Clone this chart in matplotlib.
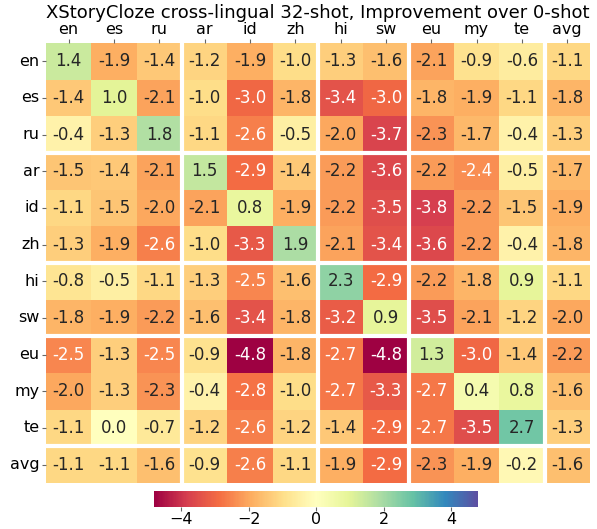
import numpy as np
import seaborn as sns
from matplotlib import pyplot as plt

langs = ["en", "es", "ru", "ar", "id", "zh", "hi", "sw", "eu", "my", "te", "avg"]

# rows: demo language, cols: eval language
en = [1.4, -1.9, -1.4, -1.2, -1.9, -1.0, -1.3, -1.6, -2.1, -0.9, -0.6, -1.1]
es = [-1.4, 1.0, -2.1, -1.0, -3.0, -1.8, -3.4, -3.0, -1.8, -1.9, -1.1, -1.8]
ru = [-0.4, -1.3, 1.8, -1.1, -2.6, -0.5, -2.0, -3.7, -2.3, -1.7, -0.4, -1.3]
ar = [-1.5, -1.4, -2.1, 1.5, -2.9, -1.4, -2.2, -3.6, -2.2, -2.4, -0.5, -1.7]
id_ = [-1.1, -1.5, -2.0, -2.1, 0.8, -1.9, -2.2, -3.5, -3.8, -2.2, -1.5, -1.9]
zh = [-1.3, -1.9, -2.6, -1.0, -3.3, 1.9, -2.1, -3.4, -3.6, -2.2, -0.4, -1.8]
hi = [-0.8, -0.5, -1.1, -1.3, -2.5, -1.6, 2.3, -2.9, -2.2, -1.8, 0.9, -1.1]
sw = [-1.8, -1.9, -2.2, -1.6, -3.4, -1.8, -3.2, 0.9, -3.5, -2.1, -1.2, -2.0]
eu = [-2.5, -1.3, -2.5, -0.9, -4.8, -1.8, -2.7, -4.8, 1.3, -3.0, -1.4, -2.2]
my = [-2.0, -1.3, -2.3, -0.4, -2.8, -1.0, -2.7, -3.3, -2.7, 0.4, 0.8, -1.6]
te = [-1.1, 0.0, -0.7, -1.2, -2.6, -1.2, -1.4, -2.9, -2.7, -3.5, 2.7, -1.3]
avg = [-1.1, -1.1, -1.6, -0.9, -2.6, -1.1, -1.9, -2.9, -2.3, -1.9, -0.2, -1.6]

data = np.array([en, es, ru, ar, id_, zh, hi, sw, eu, my, te, avg])
groups = [3, 6, 8, 11]

fig = plt.figure(figsize=(5.97, 5.29), dpi=100)
ax = fig.add_axes([0.077, 0.087, 0.911, 0.832])
cax = fig.add_axes([0.258, 0.042, 0.543, 0.030])

vmax = np.abs(data).max()
sns.heatmap(data, ax=ax, cbar_ax=cax, cmap="Spectral", vmin=-vmax, vmax=vmax,
            annot=True, fmt=".1f", annot_kws={"size": 12},
            xticklabels=langs, yticklabels=langs,
            cbar_kws={"orientation": "horizontal"})

for g in groups:
    ax.axvline(g, color="white", lw=3)
    ax.axhline(g, color="white", lw=3)

ax.xaxis.tick_top()
ax.tick_params(axis="both", labelsize=11.5, length=3, color="0.4", pad=1.5)
ax.tick_params(axis="y", rotation=0)
ax.tick_params(axis="x", rotation=0)
ax.set_title("XStoryCloze cross-lingual 32-shot, Improvement over 0-shot",
             fontsize=13, pad=1)

cax.tick_params(labelsize=11.5, length=3, color="0.4", pad=0.5)
cax.set_xticks([-4, -2, 0, 2, 4])
for s in cax.spines.values():
    s.set_visible(False)

fig.savefig("out.png", dpi=100)
